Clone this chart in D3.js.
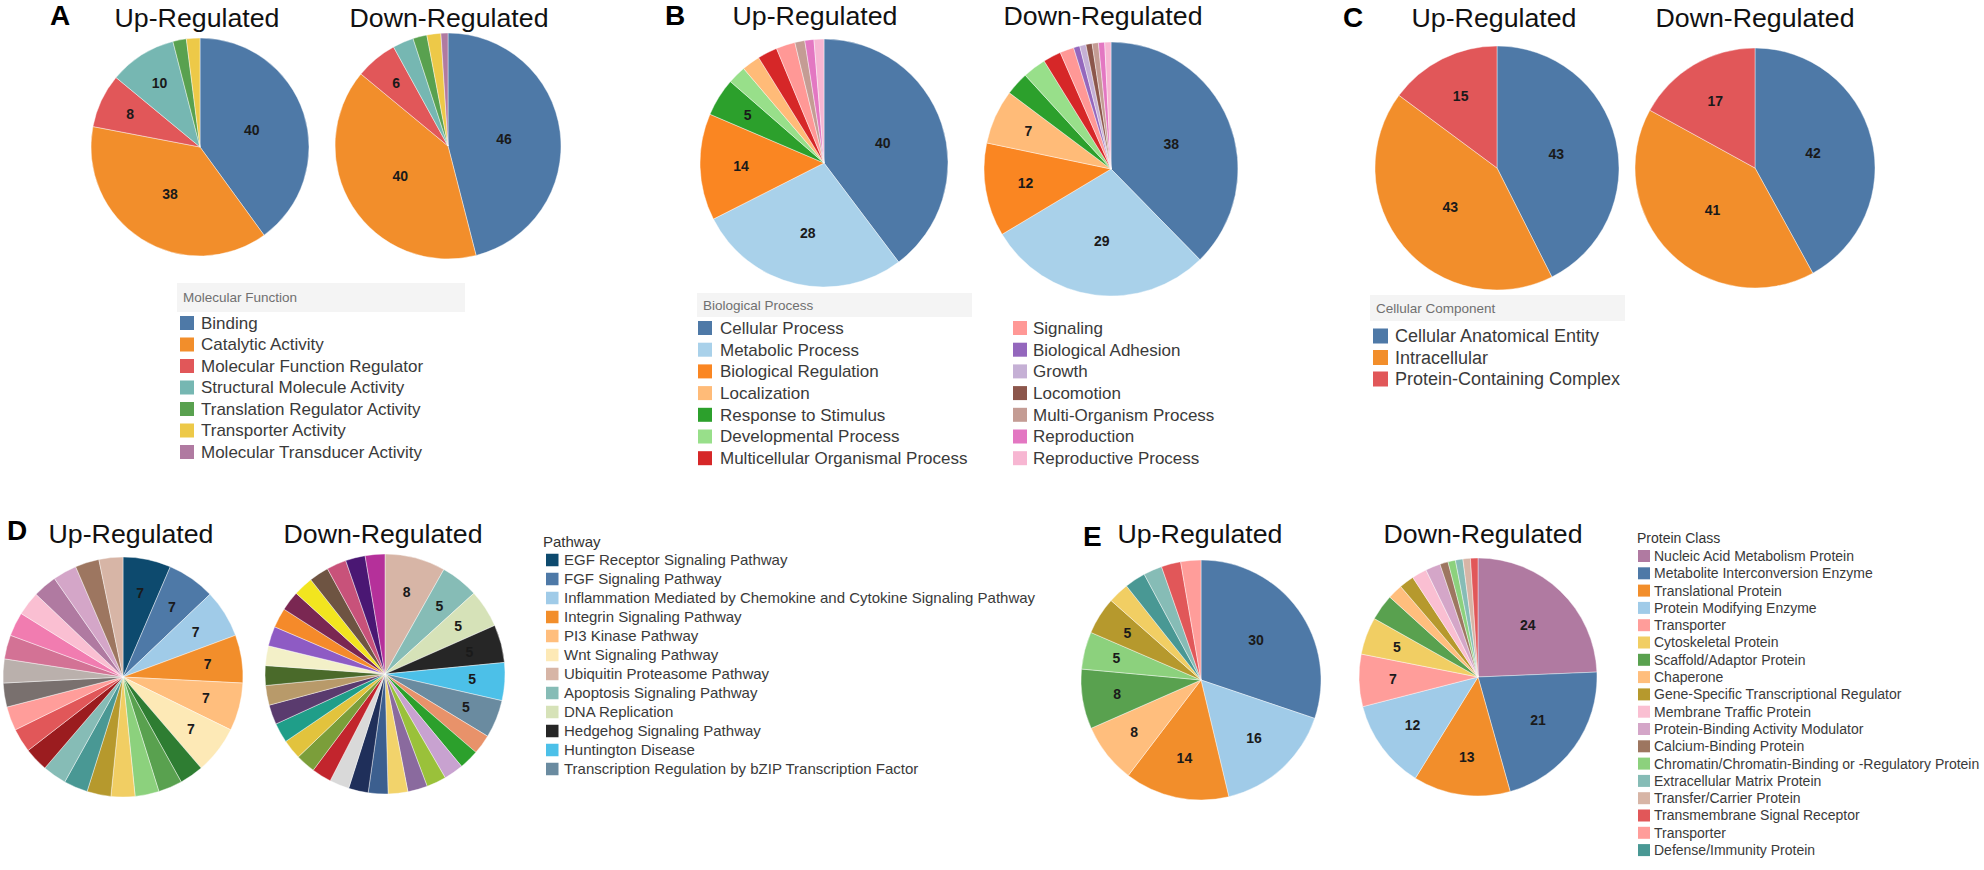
<!DOCTYPE html>
<html><head><meta charset="utf-8">
<script src="https://cdnjs.cloudflare.com/ajax/libs/d3/7.8.5/d3.min.js"></script>
<style>
html,body{margin:0;padding:0;background:#fff;}
svg text{font-family:"Liberation Sans",Arial,Helvetica,sans-serif;}
</style></head><body>
<svg id="chart" width="1984" height="870"></svg>
<script>
// ---------- A: Molecular Function ----------
const mfCategories = ["Binding","Catalytic Activity","Molecular Function Regulator","Structural Molecule Activity","Translation Regulator Activity","Transporter Activity","Molecular Transducer Activity"];
const mfColors = ["#4e79a7","#f28e2b","#e15759","#76b7b2","#59a14f","#edc948","#b07aa1"];
const mfUpNames = ["Binding","Catalytic Activity","Molecular Function Regulator","Structural Molecule Activity","Translation Regulator Activity","Transporter Activity"];
const mfUpValues = [40,38,8,10,2,2];
const mfDownNames = ["Binding","Catalytic Activity","Molecular Function Regulator","Structural Molecule Activity","Translation Regulator Activity","Transporter Activity","Molecular Transducer Activity"];
const mfDownValues = [46,40,6,3,2,2,1];

// ---------- B: Biological Process ----------
const bpCategories = ["Cellular Process","Metabolic Process","Biological Regulation","Localization","Response to Stimulus","Developmental Process","Multicellular Organismal Process","Signaling","Biological Adhesion","Growth","Locomotion","Multi-Organism Process","Reproduction","Reproductive Process"];
const bpColors = ["#4e79a7","#a9d1ea","#fa8622","#ffbb78","#2ca02c","#98df8a","#d62728","#ff9896","#9467bd","#c5b0d5","#8c564b","#c49c94","#e377c2","#f7b6d2"];
const bpUpNames = ["Cellular Process","Metabolic Process","Biological Regulation","Response to Stimulus","Developmental Process","Localization","Multicellular Organismal Process","Signaling","Multi-Organism Process","Reproduction","Reproductive Process"];
const bpUpValues = [40,28,14,5,2.4,2.4,2.6,2.5,1.3,1.2,1.3];
const bpDownNames = ["Cellular Process","Metabolic Process","Biological Regulation","Localization","Response to Stimulus","Developmental Process","Multicellular Organismal Process","Signaling","Biological Adhesion","Growth","Locomotion","Multi-Organism Process","Reproduction","Reproductive Process"];
const bpDownValues = [38,29,12,7,3,3,2.3,1.8,0.8,0.8,0.8,0.8,0.8,0.8];

// ---------- C: Cellular Component ----------
const ccCategories = ["Cellular Anatomical Entity","Intracellular","Protein-Containing Complex"];
const ccColors = ["#4e79a7","#f28e2b","#e15759"];
const ccUpValues = [43,43,15];
const ccDownValues = [42,41,17];

// ---------- D: Pathway ----------
const pwCategories = ["EGF Receptor Signaling Pathway","FGF Signaling Pathway","Inflammation Mediated by Chemokine and Cytokine Signaling Pathway","Integrin Signaling Pathway","PI3 Kinase Pathway","Wnt Signaling Pathway","Ubiquitin Proteasome Pathway","Apoptosis Signaling Pathway","DNA Replication","Hedgehog Signaling Pathway","Huntington Disease","Transcription Regulation by bZIP Transcription Factor"];
const pwColors = ["#0d4a6e","#4e79a7","#a0cbe8","#f28e2b","#ffbe7d","#fde9b6","#d7b5a6","#86bcb6","#d6e2b8","#262626","#4cc0e8","#6a8ba0"];
const pwUpValues = [7,7,7,7,7,7,3.5,3.5,3.5,3.5,3.5,3.5,3.5,3.5,3.5,3.5,3.5,3.5,3.5,3.5,3.5,3.5,3.5,3.5,3.5];
const pwUpColors = ["#0d4a6e","#4e79a7","#a0cbe8","#f28e2b","#ffbe7d","#fde9b6",
  "#2e7d32","#59a14f","#8cd17d","#f1ce63","#b6992d","#499894","#86bcb6","#9b1c1f","#e15759","#ff9d9a",
  "#79706e","#bab0ac","#d37295","#f17cb0","#fabfd2","#b07aa1","#d4a6c8","#9d7660","#d7b5a6"];
const pwDownValues = [8,5,5,5,5,5,2.6,2.6,2.6,2.6,2.6,2.6,2.6,2.6,2.6,2.6,2.6,2.6,2.6,2.6,2.6,2.6,2.6,2.6,2.6,2.6,2.6,2.6,2.6,2.6,2.6];
const pwDownColors = ["#d7b5a6","#86bcb6","#d6e2b8","#262626","#4cc0e8","#6a8ba0",
  "#e8926a","#2ca02c","#c8a2d0","#9ac13a","#8a6a9e","#f2d36b","#3c5f8f","#1f2f5a","#d9d9d9","#c2252d",
  "#7b9e3a","#e2c33d","#1f9e89","#5a3b6e","#b89a6a","#4a6a2a","#f3f0c8","#8e5bc4","#f58a2a","#7a2752",
  "#f2e51f","#6e5442","#c8527a","#4a1773","#b5309a"];

// ---------- E: Protein Class ----------
const pcCategories = ["Nucleic Acid Metabolism Protein","Metabolite Interconversion Enzyme","Translational Protein","Protein Modifying Enzyme","Transporter","Cytoskeletal Protein","Scaffold/Adaptor Protein","Chaperone","Gene-Specific Transcriptional Regulator","Membrane Traffic Protein","Protein-Binding Activity Modulator","Calcium-Binding Protein","Chromatin/Chromatin-Binding or -Regulatory Protein","Extracellular Matrix Protein","Transfer/Carrier Protein","Transmembrane Signal Receptor","Transporter","Defense/Immunity Protein"];
const pcColors = ["#b07aa1","#4e79a7","#f28e2b","#a0cbe8","#ff9d9a","#f1ce63","#59a14f","#ffbe7d","#b6992d","#fabfd2","#d4a6c8","#9d7660","#8cd17d","#86bcb6","#d7b5a6","#e15759","#ff9d9a","#499894"];
const pcUpIdx = [1,3,2,7,6,12,8,5,17,13,15,16];
const pcUpValues = [30,16,14,8,8,5,5,2.8,2.8,2.5,2.6,2.7];
const pcDownIdx = [0,1,2,3,4,5,6,7,8,9,10,11,12,13,14,15];
const pcDownValues = [24,21,13,12,7,5,3.5,2,2,2,2,1.1,1,1,1,1];

// ================= drawing =================
const svg = d3.select("#chart");
const fmt = d3.format("d");

function drawPie(cx, cy, r, values, colors) {
  const data = values.map((v, i) => ({ value: v, color: colors[i] }));
  const arcs = d3.pie().sort(null).value(d => d.value)(data);
  const arc = d3.arc().innerRadius(0).outerRadius(r);
  const g = svg.append("g").attr("transform", `translate(${cx},${cy})`);
  g.selectAll("path").data(arcs).join("path")
    .attr("d", arc).attr("fill", d => d.data.color)
    .attr("stroke", "#ffffff").attr("stroke-width", 0.6).attr("stroke-opacity", 0.7);
  g.selectAll("text").data(arcs.filter(d => d.data.value >= 5)).join("text")
    .attr("transform", d => {
      const f = 0.5 + 0.26 * (1 - Math.min(d.data.value, 40) / 40);
      const la = d3.arc().innerRadius(r * f).outerRadius(r * f);
      return `translate(${la.centroid(d)})`;
    })
    .attr("text-anchor", "middle").attr("dy", "0.35em")
    .attr("font-size", 14).attr("font-weight", "bold").attr("fill", "#1a1a1a")
    .text(d => fmt(Math.round(d.data.value)));
}

function title(x, y, txt, len) {
  svg.append("text").attr("x", x).attr("y", y).attr("text-anchor", "middle")
    .attr("font-size", 25).attr("fill", "#111")
    .attr("textLength", len).attr("lengthAdjust", "spacingAndGlyphs").text(txt);
}
function letter(x, y, txt) {
  svg.append("text").attr("x", x).attr("y", y).attr("font-size", 28)
    .attr("font-weight", "bold").attr("fill", "#000").text(txt);
}
function bandHeader(x, y, w, h, txt, fs) {
  svg.append("rect").attr("x", x).attr("y", y).attr("width", w).attr("height", h).attr("fill", "#f4f4f4");
  svg.append("text").attr("x", x + 6).attr("y", y + h / 2).attr("dy", "0.35em")
    .attr("font-size", fs).attr("fill", "#707070").text(txt);
}
function legend(x, y0, step, names, colors, sq, tx, fs) {
  const g = svg.append("g");
  names.forEach((n, i) => {
    const y = y0 + i * step;
    g.append("rect").attr("x", x).attr("y", y - sq / 2).attr("width", sq).attr("height", sq).attr("fill", colors[i]);
    g.append("text").attr("x", x + tx).attr("y", y).attr("dy", "0.35em")
      .attr("font-size", fs).attr("fill", "#3a3a3a").text(n);
  });
}
const colorFrom = (cats, cols) => names => names.map(n => cols[cats.indexOf(n)]);

// A
letter(50, 25, "A");
title(197, 27, "Up-Regulated", 165);
title(449, 27, "Down-Regulated", 199);
drawPie(200, 147, 109, mfUpValues, colorFrom(mfCategories, mfColors)(mfUpNames));
drawPie(448, 146, 113, mfDownValues, colorFrom(mfCategories, mfColors)(mfDownNames));
bandHeader(177, 283, 288, 29, "Molecular Function", 13.5);
legend(180, 323, 21.5, mfCategories, mfColors, 14, 21, 17);

// B
letter(665, 25, "B");
title(815, 25, "Up-Regulated", 165);
title(1103, 25, "Down-Regulated", 199);
drawPie(824, 163, 124, bpUpValues, colorFrom(bpCategories, bpColors)(bpUpNames));
drawPie(1111, 169, 127, bpDownValues, colorFrom(bpCategories, bpColors)(bpDownNames));
bandHeader(697, 293, 275, 24, "Biological Process", 13.5);
legend(698, 328, 21.7, bpCategories.slice(0, 7), bpColors.slice(0, 7), 14, 22, 17);
legend(1013, 328, 21.7, bpCategories.slice(7), bpColors.slice(7), 14, 20, 17);

// C
letter(1343, 27, "C");
title(1494, 27, "Up-Regulated", 165);
title(1755, 27, "Down-Regulated", 199);
drawPie(1497, 168, 122, ccUpValues, ccColors);
drawPie(1755, 168, 120, ccDownValues, ccColors);
bandHeader(1370, 295, 255, 26, "Cellular Component", 13.5);
legend(1373, 336, 21.5, ccCategories, ccColors, 15, 22, 18);

// D
letter(7, 540, "D");
title(131, 543, "Up-Regulated", 165);
title(383, 543, "Down-Regulated", 199);
drawPie(123, 677, 120, pwUpValues, pwUpColors);
drawPie(385, 674, 120, pwDownValues, pwDownColors);
svg.append("text").attr("x", 543).attr("y", 542).attr("dy", "0.35em").attr("font-size", 15).attr("fill", "#333").text("Pathway");
legend(546, 560, 19, pwCategories, pwColors, 12.5, 18, 15);

// E
letter(1083, 546, "E");
title(1200, 543, "Up-Regulated", 165);
title(1483, 543, "Down-Regulated", 199);
drawPie(1201, 680, 120, pcUpValues, pcUpIdx.map(i => pcColors[i]));
drawPie(1478, 677, 119, pcDownValues, pcDownIdx.map(i => pcColors[i]));
svg.append("text").attr("x", 1637).attr("y", 538).attr("dy", "0.35em").attr("font-size", 14).attr("fill", "#333").text("Protein Class");
legend(1638, 556, 17.3, pcCategories, pcColors, 12, 16, 14);
</script>
</body></html>
